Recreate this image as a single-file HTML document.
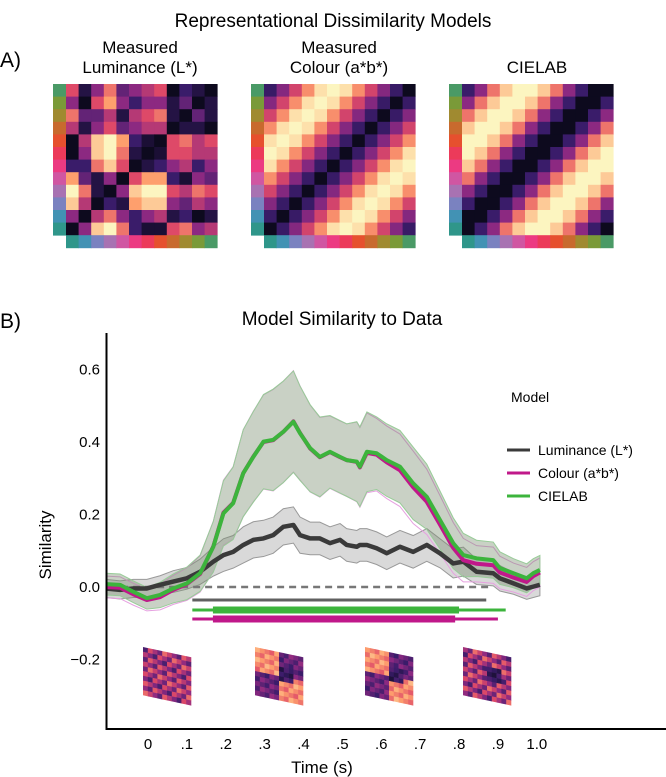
<!DOCTYPE html>
<html><head><meta charset="utf-8"><style>
html,body{margin:0;padding:0;background:#fff;width:666px;height:777px;overflow:hidden}
svg{display:block;font-family:"Liberation Sans",sans-serif}
</style></head><body>
<svg id="fig" width="666" height="777" viewBox="0 0 666 777">
<text x="0" y="67" font-size="21">A)</text>
<text x="333" y="27" font-size="19" text-anchor="middle">Representational Dissimilarity Models</text>
<text x="140" y="53" font-size="17" text-anchor="middle">Measured</text>
<text x="140" y="73" font-size="17" text-anchor="middle">Luminance (L*)</text>
<text x="339" y="53" font-size="17" text-anchor="middle">Measured</text>
<text x="339" y="73" font-size="17" text-anchor="middle">Colour (a*b*)</text>
<text x="537" y="73" font-size="17" text-anchor="middle">CIELAB</text>
<g id="mats"></g>
<text x="0" y="328" font-size="21">B)</text>
<text x="342" y="325" font-size="19" text-anchor="middle">Model Similarity to Data</text>
<g id="plot"></g>
<line x1="106.5" y1="333" x2="106.5" y2="730" stroke="#000" stroke-width="2"/>
<line x1="106" y1="729" x2="666" y2="729" stroke="#000" stroke-width="2"/>
<g id="yticks"></g>
<g id="xticks"></g>
<text transform="translate(51,545) rotate(-90)" font-size="17" text-anchor="middle">Similarity</text>
<text x="322" y="773" font-size="17" text-anchor="middle">Time (s)</text>
<g>
<text x="511" y="402" font-size="14">Model</text>
<line x1="507" y1="450" x2="530" y2="450" stroke="#3a3a3a" stroke-width="3"/>
<text x="538" y="455" font-size="14">Luminance (L*)</text>
<line x1="507" y1="473" x2="530" y2="473" stroke="#c0188a" stroke-width="3"/>
<text x="538" y="478" font-size="14">Colour (a*b*)</text>
<line x1="507" y1="496" x2="530" y2="496" stroke="#3cb43c" stroke-width="3"/>
<text x="538" y="501" font-size="14">CIELAB</text>
</g>
<g id="thumbs"></g>
</svg>
<script>
const times=[-0.108,-0.072,-0.038,-0.003,0.031,0.065,0.1,0.134,0.168,0.194,0.219,0.245,0.271,0.297,0.322,0.348,0.374,0.391,0.417,0.442,0.468,0.494,0.511,0.537,0.545,0.563,0.588,0.614,0.648,0.682,0.717,0.751,0.785,0.811,0.845,0.888,0.905,0.94,0.974,0.991,1.008];
const cielab=[0.008,0.006,-0.013,-0.031,-0.022,-0.004,0.01,0.038,0.111,0.203,0.231,0.314,0.359,0.401,0.406,0.428,0.456,0.424,0.383,0.359,0.373,0.359,0.35,0.346,0.332,0.373,0.369,0.35,0.332,0.286,0.249,0.185,0.121,0.088,0.079,0.074,0.052,0.038,0.024,0.038,0.047];
const colour=[0.0,-0.002,-0.02,-0.036,-0.028,-0.008,0.008,0.036,0.112,0.205,0.232,0.314,0.36,0.4,0.405,0.428,0.457,0.425,0.382,0.358,0.372,0.358,0.35,0.345,0.33,0.37,0.365,0.344,0.322,0.275,0.235,0.172,0.108,0.074,0.064,0.06,0.04,0.026,0.014,0.03,0.04];
const luminance=[-0.004,-0.008,-0.004,-0.004,0.006,0.015,0.024,0.042,0.07,0.088,0.097,0.116,0.13,0.134,0.143,0.166,0.171,0.143,0.134,0.134,0.121,0.13,0.116,0.111,0.116,0.116,0.107,0.093,0.111,0.097,0.116,0.093,0.065,0.07,0.042,0.038,0.024,0.01,-0.004,0.001,0.006];
const cielabErr=[0.03,0.03,0.03,0.03,0.035,0.04,0.045,0.05,0.07,0.09,0.1,0.12,0.125,0.13,0.14,0.14,0.14,0.13,0.12,0.11,0.1,0.1,0.1,0.11,0.11,0.11,0.1,0.1,0.1,0.1,0.09,0.08,0.07,0.06,0.05,0.05,0.045,0.04,0.04,0.04,0.04];
const lumErr=[0.025,0.025,0.025,0.025,0.025,0.03,0.03,0.035,0.04,0.045,0.045,0.05,0.05,0.05,0.05,0.05,0.05,0.05,0.045,0.045,0.045,0.045,0.045,0.045,0.045,0.045,0.045,0.045,0.045,0.045,0.045,0.04,0.04,0.04,0.035,0.035,0.035,0.03,0.03,0.03,0.03];
const yTicks=[0.6,0.4,0.2,0.0,-0.2];
const yTickLabels=["0.6","0.4","0.2","0.0","\u22120.2"];
const xTicks=[0,0.1,0.2,0.3,0.4,0.5,0.6,0.7,0.8,0.9,1.0];
const xTickLabels=["0",".1",".2",".3",".4",".5",".6",".7",".8",".9","1.0"];
const sigLum=[0.114,0.87];
const sigColourThin=[0.114,0.90];const sigColourThick=[0.167,0.79];
const sigCielabThin=[0.114,0.92];const sigCielabThick=[0.167,0.80];

const NS="http://www.w3.org/2000/svg";
const X=t=>148+t*388.8, Y=v=>587-v*362.5;
function mk(tag,attrs,parent){const e=document.createElementNS(NS,tag);for(const k in attrs)e.setAttribute(k,attrs[k]);parent.appendChild(e);return e;}
const plot=document.getElementById('plot');
function band(vals,err,fill,stroke,name){
  let up=times.map((t,i)=>X(t)+','+Y(vals[i]+err[i]));
  let lo=times.map((t,i)=>X(t)+','+Y(vals[i]-err[i])).reverse();
  const p=mk('polygon',{points:up.concat(lo).join(' '),fill:fill,stroke:stroke,'stroke-width':1},plot);
  
  
}
function line(vals,col,w,name){
  const p=mk('polyline',{points:times.map((t,i)=>X(t)+','+Y(vals[i])).join(' '),fill:'none',stroke:col,'stroke-width':w,'stroke-linejoin':'round'},plot);
  
  
}
band(luminance,lumErr,'rgba(170,170,170,0.45)','#999','luminance-ci-band');
band(colour,cielabErr,'none','#e6a0e0','colour-ci-band');
band(cielab,cielabErr,'rgba(120,140,110,0.4)','#98cc98','cielab-ci-band');
let d=mk('line',{x1:X(-0.1),x2:X(0.88),y1:Y(0),y2:Y(0),stroke:'#777','stroke-width':2.5,'stroke-dasharray':'7,5'},plot);


line(luminance,'#3a3a3a',4.5,'luminance-line');
line(colour,'#c0188a',4,'colour-line');
line(cielab,'#3cb43c',4,'cielab-line');
function bar(r,y,col,w,name){const e=mk('line',{x1:X(r[0]),x2:X(r[1]),y1:y,y2:y,stroke:col,'stroke-width':w},plot);
  
  }
bar(sigLum,600,'#606060',3,'sig-bar-luminance');
bar(sigCielabThin,610,'#3cb43c',3,'sig-bar-cielab-thin');
bar(sigCielabThick,610,'#3cb43c',7,'sig-bar-cielab-thick');
bar(sigColourThin,619,'#c0188a',3,'sig-bar-colour-thin');
bar(sigColourThick,619,'#c0188a',7,'sig-bar-colour-thick');
const yt=document.getElementById('yticks');
yTicks.forEach((v,i)=>{const t=mk('text',{x:100,y:Y(v)+5,'font-size':15,'text-anchor':'end'},yt);t.textContent=yTickLabels[i];
  
  });
const xt=document.getElementById('xticks');
xTicks.forEach((v,i)=>{const t=mk('text',{x:X(v),y:749,'font-size':15,'text-anchor':'middle'},xt);t.textContent=xTickLabels[i];
  
  });

const stops=[[13,10,30],[58,28,106],[140,41,129],[222,73,104],[254,159,109],[252,245,192]];
function cmap(v){v=Math.max(0,Math.min(5,v));const i=Math.min(4,Math.floor(v)),f=v-i,a=stops[i],b=stops[i+1];
  return 'rgb('+a.map((c,k)=>Math.round(c+(b[k]-c)*f)).join(',')+')';}
const hues=['#4a9a66','#7a9a38','#a08a30','#c86a2e','#e6502e','#ec3a5a','#ec3a82','#d056a2','#a872b2','#7a82c0','#4292b4','#2f968a'];
const lumM=[[3,0.5,2,3.5,1.5,2,2.5,3,0,1,0.5,0],[2,0,3,4,2,1,2,2,0.5,1.5,0,0.5],[3.5,1.5,1.5,2.5,0.5,2.5,3,3.5,0.5,0,1.5,0.5],[2.5,0.5,2,3,1.5,2,2.5,2.5,0,0.5,0.5,0],[0,2.5,4.5,5,4,1,0.3,0,3,3.5,2.5,3],[0,2,4.5,5,3.5,0.5,0,0.3,3,3,2.5,2.5],[1,1,3.5,4.5,3,0,0.5,1,2,2.5,1,2],[4,1.5,0.5,2,0,3,4,4,1,0.3,2,1.5],[5,3.5,0.5,0,2,4.5,5,5,3,2.5,3.5,3],[4.5,2.5,0,1,0.5,4,4.5,4.5,2,1.5,2.5,2],[2,0,2.5,3.5,2,1,2,2.5,0.5,1,0,0.5],[0,2,4.5,5,3.5,1,0.3,0.3,3,3.5,2,2.5]];
const mats=document.getElementById('mats');
function matrix(x0,y0,fn,name){
  const g=mk('g',{},mats);
  const cs=12.6;
  for(let r=0;r<12;r++)for(let c=0;c<12;c++){mk('rect',{x:x0+c*cs,y:y0+r*cs,width:cs+0.4,height:cs+0.4,fill:cmap(fn(r,c))},g);}
  for(let i=0;i<12;i++){mk('rect',{x:x0-13,y:y0+i*cs,width:13,height:cs+0.4,fill:hues[i]},g);
    mk('rect',{x:x0+i*cs,y:y0+12*cs,width:cs+0.4,height:13,fill:hues[11-i]},g);}
}
matrix(66,84,(r,c)=>lumM[r][c],'rdm-luminance');
matrix(264,84,(r,c)=>{let s=Math.abs(r+c-11);s=Math.min(s,12-s);return s*0.95;},'rdm-colour');
matrix(462,84,(r,c)=>{let s=(((r+c)%12)+12)%12;let dd=Math.abs(s-10.5);dd=Math.min(dd,12-dd);return Math.min(5,Math.floor(dd)*1.0+(dd>=3?0.5:0));},'rdm-cielab');

const th=document.getElementById('thumbs');
const thumbX=[143,255,365,463];
thumbX.forEach((x0,k)=>{
  const g=mk('g',{transform:'translate('+x0+',647) skewY(12)'},th);
  
  
  const cs=4.8;
  for(let r=0;r<10;r++)for(let c=0;c<10;c++){
    let h=((r*7+c*13+k*5)*37)%11/11;
    let v;
    if(k==0) v=1.2+h*2.4;
    else{const blk=((r<5)==(c<5))?1:0;const base=k==3?2.4:(blk?3.8:1.6);v=base+(h-0.5)*(k==3?2.5:1.2);
      if(r>=3&&r<=5&&c>=5&&c<=7)v=0.4+h;}
    mk('rect',{x:c*cs,y:r*cs,width:cs+0.3,height:cs+0.3,fill:cmap(v)},g);
  }
});
</script>
</body></html>
